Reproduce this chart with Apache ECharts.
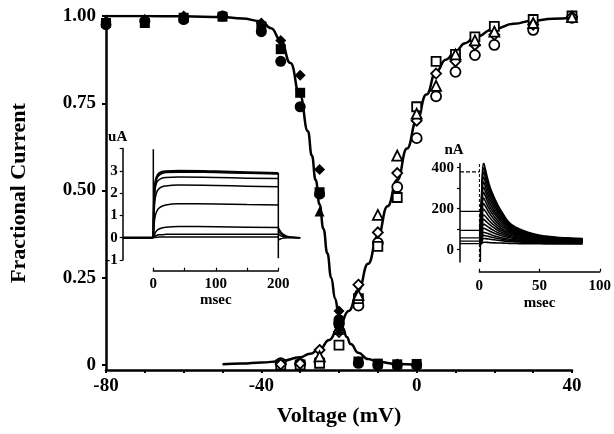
<!DOCTYPE html>
<html>
<head>
<meta charset="utf-8">
<script src="https://cdn.jsdelivr.net/npm/echarts@6.0.0/dist/echarts.min.js"></script>
<style>
  html, body { margin: 0; padding: 0; background: #fff; }
  #chart { width: 614px; height: 434px; }
</style>
</head>
<body>
<div id="chart"></div>
<script>
const FONT = 'Liberation Serif';

// ---- main plot: fractional current vs voltage ----
const fracTicks = [0, 0.25, 0.5, 0.75, 1];

// fitted inactivation curve
const inactCurveV = [-80, -70, -60, -50, -45, -40, -37.5, -35, -32.5, -30, -28, -27, -26, -25, -24, -23, -22, -21, -20, -19, -18, -17, -15, -12.5, -10, -5, 0];
const inactCurveF = [1.0, 1.0, 0.999, 0.997, 0.993, 0.985, 0.965, 0.93, 0.865, 0.77, 0.67, 0.6, 0.53, 0.46, 0.39, 0.32, 0.25, 0.19, 0.14, 0.105, 0.08, 0.06, 0.035, 0.017, 0.009, 0.003, 0.001];

// fitted activation curve
const actCurveV = [-50, -45, -40, -35, -30, -27.5, -25, -22.5, -20, -17.5, -15, -12.5, -10, -7.5, -5, -2.5, 0, 2.5, 5, 7.5, 10, 12.5, 15, 20, 25, 30, 35, 40];
const actCurveF = [0.002, 0.004, 0.007, 0.011, 0.022, 0.032, 0.045, 0.072, 0.11, 0.155, 0.215, 0.29, 0.37, 0.455, 0.53, 0.62, 0.70, 0.775, 0.84, 0.875, 0.9, 0.922, 0.94, 0.963, 0.978, 0.987, 0.992, 0.995];

// inactivation data (filled symbols)
const inactV = [-80, -70, -60, -50, -40, -35, -30, -25, -20, -15, -10, -5, 0];
const inactCircle = [0.975, 0.985, 0.99, 1.0, 0.955, 0.87, 0.74, 0.49, 0.13, 0.005, 0.0, 0.0, 0.0];
const inactSquare = [0.98, 0.98, 0.995, 0.998, 0.97, 0.905, 0.78, 0.495, 0.12, 0.01, 0.004, 0.002, 0.003];
const inactDiamond = [0.985, 0.99, 1.0, 1.0, 0.98, 0.93, 0.83, 0.56, 0.155, 0.01, 0.003, 0.003, 0.0];
const inactTriangle = [null, null, null, null, null, null, null, 0.44, 0.1, null, null, null, null];

// activation data (open symbols)
const actV = [-35, -30, -25, -20, -15, -10, -5, 0, 5, 10, 15, 20, 30, 40];
const actCircle = [0.005, 0.003, 0.01, 0.12, 0.17, 0.35, 0.51, 0.65, 0.77, 0.84, 0.888, 0.917, 0.96, 0.995];
const actSquare = [0.0, 0.0, 0.005, 0.057, 0.19, 0.34, 0.48, 0.74, 0.87, 0.89, 0.94, 0.97, 0.99, 1.0];
const actDiamond = [0.002, 0.004, 0.043, 0.095, 0.23, 0.38, 0.55, 0.70, 0.835, 0.87, 0.917, 0.946, 0.975, 0.998];
const actTriangle = [null, null, 0.025, null, 0.2, 0.43, 0.60, 0.72, 0.80, 0.89, 0.93, 0.955, 0.98, 0.997];

// ---- left inset: uA vs msec ----
const uaTicks = [-1, 0, 1, 2, 3];
const uaT = [0, 2, 5, 10, 20, 40, 100, 150, 200];
const uaTrace1 = [0, 2.2, 2.7, 2.9, 2.98, 3.0, 2.97, 2.93, 2.9];
const uaTrace2 = [0, 2.1, 2.6, 2.82, 2.92, 2.94, 2.92, 2.89, 2.86];
const uaTrace3 = [0, 1.9, 2.45, 2.62, 2.7, 2.72, 2.7, 2.67, 2.65];
const uaTrace4 = [0, 1.5, 2.0, 2.22, 2.32, 2.36, 2.34, 2.31, 2.28];
const uaTrace5 = [0, 0.8, 1.15, 1.35, 1.47, 1.52, 1.51, 1.49, 1.47];
const uaTrace6 = [0, 0.15, 0.3, 0.4, 0.47, 0.5, 0.49, 0.47, 0.46];
const uaTrace7 = [0, 0.05, 0.1, 0.13, 0.15, 0.16, 0.16, 0.15, 0.15];
const uaTrace8 = [0, 0.01, 0.02, 0.03, 0.03, 0.03, 0.03, 0.03, 0.03];
const uaTailT = [200, 203, 206, 210, 215, 222, 235];
const uaTail1 = [0.45, 0.3, 0.2, 0.12, 0.06, 0.02, 0];
const uaTail2 = [0.3, 0.2, 0.13, 0.08, 0.04, 0.015, 0];
const uaTail3 = [0.15, 0.1, 0.06, 0.04, 0.02, 0.01, 0];
const uaTail4 = [-0.1, -0.06, -0.03, -0.015, -0.005, 0, 0];
const uaBaseT = [-49, 0];
const uaBase = [0, 0];
const uaOnT = [0, 0];
const uaOn = [0, 3.97];
const uaOffT = [200, 200];
const uaOff = [2.9, -0.92];

// ---- right inset: nA vs msec ----
const naTicks = [0, 100, 200, 300, 400];
const naLabels = [0, 200, 400];
const naPreT = [-16, 0];
const naPreLevels = [380, 187, 94, 58, 42, 30];
const naT = [0.5, 2, 3.5, 5, 7.5, 10, 15, 20, 25, 30, 40, 50, 60, 70, 85];
const naTraces = [
  [50, 300, 423, 390, 330, 285, 220, 170, 130, 110, 85, 70, 63, 58, 54],
  [48, 285, 400, 370, 315, 272, 210, 162, 126, 106, 82, 68, 61, 57, 53],
  [45, 270, 380, 350, 300, 260, 200, 155, 122, 103, 80, 67, 60, 56, 52],
  [42, 250, 355, 328, 281, 244, 189, 147, 117, 99, 78, 65, 59, 55, 51],
  [40, 230, 330, 305, 262, 228, 178, 140, 112, 96, 76, 64, 58, 54, 50],
  [39, 210, 305, 282, 243, 212, 166, 132, 106, 92, 73, 62, 56, 52, 49],
  [38, 190, 280, 260, 225, 196, 155, 124, 101, 88, 71, 61, 55, 51, 48],
  [37, 170, 252, 236, 205, 180, 142, 115, 95, 83, 68, 59, 53, 50, 47],
  [36, 150, 225, 212, 185, 163, 130, 106, 89, 79, 65, 57, 52, 49, 46],
  [35, 130, 198, 187, 165, 146, 118, 97, 83, 74, 62, 55, 50, 47, 45],
  [34, 110, 170, 162, 145, 130, 106, 89, 77, 69, 59, 52, 48, 46, 44],
  [33, 95, 148, 141, 127, 115, 95, 81, 70, 64, 55, 49, 45, 43, 42],
  [32, 80, 125, 120, 110, 100, 84, 73, 64, 59, 51, 46, 43, 41, 40],
  [31, 67, 105, 101, 94, 86, 74, 65, 58, 54, 47, 43, 41, 39, 38],
  [30, 55, 85, 83, 78, 72, 63, 56, 51, 48, 43, 40, 38, 37, 36],
  [29, 47, 70, 68, 65, 61, 55, 50, 46, 43, 39, 37, 35, 34, 34],
  [28, 40, 55, 54, 52, 50, 46, 43, 40, 38, 35, 33, 32, 32, 31],
  [27, 30, 36, 36, 35, 34, 33, 32, 31, 30, 29, 29, 28, 28, 28]
];
const naZeroT = [0, 0];
const naZero = [-60, 420];
const naSpikeT = [0.8, 0.8];
const naSpike = [-60, 200];

function pairs(xs, ys) {
  return xs.map((x, i) => [x, ys[i]]).filter(p => p[1] != null);
}

const txt = { color: '#000', fontFamily: FONT, fontWeight: 'bold' };
const blackLine = { color: '#000', width: 2.5 };

function curve(xi, yi, xs, ys, width, extra) {
  return Object.assign({
    type: 'line', xAxisIndex: xi, yAxisIndex: yi,
    data: pairs(xs, ys), symbol: 'none', silent: true,
    lineStyle: { color: '#000', width: width },
    animation: false
  }, extra || {});
}

function dots(xs, ys, symbol, size, open) {
  return {
    type: 'scatter', xAxisIndex: 0, yAxisIndex: 0, clip: false,
    data: pairs(xs, ys), symbol: symbol, symbolSize: size,
    itemStyle: open
      ? { color: '#fff', borderColor: '#000', borderWidth: 1.8, opacity: 1 }
      : { color: '#000', opacity: 1 },
    z: 4, animation: false
  };
}

let myChart = echarts.init(document.getElementById('chart'));

let series = [
  curve(0, 0, inactCurveV, inactCurveF, 2.5, { smooth: true, smoothMonotone: 'x' }),
  curve(0, 0, actCurveV, actCurveF, 2.5, { smooth: true, smoothMonotone: 'x' }),
  dots(actV, actCircle, 'circle', 10, true),
  dots(actV, actSquare, 'rect', 9, true),
  dots(actV, actDiamond, 'diamond', 10, true),
  dots(actV, actTriangle, 'triangle', 10, true),
  dots(inactV, inactCircle, 'circle', 11, false),
  dots(inactV, inactSquare, 'rect', 10, false),
  dots(inactV, inactDiamond, 'diamond', 11, false),
  dots(inactV, inactTriangle, 'triangle', 10, false),

  curve(1, 1, uaBaseT, uaBase, 2.5),
  curve(1, 1, uaOnT, uaOn, 1.5),
  curve(1, 1, uaOffT, uaOff, 1.5),
  curve(1, 1, uaT, uaTrace1, 2.2, { smooth: true }),
  curve(1, 1, uaT, uaTrace2, 1.5, { smooth: true }),
  curve(1, 1, uaT, uaTrace3, 1.5, { smooth: true }),
  curve(1, 1, uaT, uaTrace4, 1.5, { smooth: true }),
  curve(1, 1, uaT, uaTrace5, 1.5, { smooth: true }),
  curve(1, 1, uaT, uaTrace6, 1.5, { smooth: true }),
  curve(1, 1, uaT, uaTrace7, 1.5, { smooth: true }),
  curve(1, 1, uaT, uaTrace8, 1.5, { smooth: true }),
  curve(1, 1, uaTailT, uaTail1, 1.5, { smooth: true }),
  curve(1, 1, uaTailT, uaTail2, 1.5, { smooth: true }),
  curve(1, 1, uaTailT, uaTail3, 1.5, { smooth: true }),
  curve(1, 1, uaTailT, uaTail4, 1.5, { smooth: true }),

  curve(3, 3, naZeroT, naZero, 1, { lineStyle: { color: '#000', width: 1, type: [3, 2] } }),
  curve(3, 3, naSpikeT, naSpike, 1.5)
];
naPreLevels.forEach((lvl, i) => {
  series.push(curve(3, 3, naPreT, [lvl, lvl], 1.2,
    i === 0 ? { lineStyle: { color: '#000', width: 1.2, type: [4, 2] } } : {}));
});
naTraces.forEach(tr => {
  series.push(curve(3, 3, naT, tr, 1.6, { smooth: true }));
});

let hiddenAxis = (grid, min, max) => ({
  type: 'value', gridIndex: grid, min: min, max: max, show: false,
  splitLine: { show: false }
});

let option = {
  backgroundColor: '#fff',
  animation: false,
  grid: [
    { left: 103, top: 16, width: 469, height: 354 },
    { left: 122.7, top: 148.5, width: 177.5, height: 111.5 },
    { left: 153.3, top: 260, width: 125, height: 10.7 },
    { left: 460, top: 163.6, width: 140.8, height: 98.4 },
    { left: 479.3, top: 262, width: 121.4, height: 9.7 }
  ],
  xAxis: [
    {
      type: 'value', gridIndex: 0, min: -80, max: 40, interval: 10,
      axisLine: { onZero: false, lineStyle: blackLine },
      axisTick: { length: 3, lineStyle: { color: '#000', width: 2 } },
      axisLabel: Object.assign({ fontSize: 19, margin: 7,
        formatter: v => (v % 40 === 0 ? String(v) : '') }, txt),
      splitLine: { show: false },
      name: 'Voltage (mV)', nameLocation: 'middle', nameGap: 35,
      nameTextStyle: Object.assign({ fontSize: 22 }, txt)
    },
    hiddenAxis(1, -49, 235),
    {
      type: 'value', gridIndex: 2, min: 0, max: 200, interval: 50,
      axisLine: { onZero: false, lineStyle: { color: '#000', width: 1.5 } },
      axisTick: { inside: true, length: 3, lineStyle: { color: '#000', width: 1.2 } },
      axisLabel: Object.assign({ fontSize: 15, margin: 6,
        formatter: v => (v % 100 === 0 ? String(v) : '') }, txt),
      splitLine: { show: false },
      name: 'msec', nameLocation: 'middle', nameGap: 21,
      nameTextStyle: Object.assign({ fontSize: 15 }, txt)
    },
    hiddenAxis(3, -16, 100),
    {
      type: 'value', gridIndex: 4, min: 0, max: 100, interval: 50,
      axisLine: { onZero: false, lineStyle: { color: '#000', width: 1.5 } },
      axisTick: { inside: true, length: 3, lineStyle: { color: '#000', width: 1.2 } },
      axisLabel: Object.assign({ fontSize: 15, margin: 7 }, txt),
      splitLine: { show: false },
      name: 'msec', nameLocation: 'middle', nameGap: 24,
      nameTextStyle: Object.assign({ fontSize: 15 }, txt)
    }
  ],
  yAxis: [
    {
      type: 'value', gridIndex: 0, min: -0.0143, max: 1,
      axisLine: { onZero: false, lineStyle: blackLine },
      axisTick: { length: 4, customValues: fracTicks, lineStyle: { color: '#000', width: 2 } },
      axisLabel: Object.assign({ fontSize: 19, margin: 10, customValues: fracTicks,
        formatter: v => (v === 0 ? '0' : v.toFixed(2)) }, txt),
      splitLine: { show: false },
      name: 'Fractional Current', nameLocation: 'middle', nameGap: 76,
      nameTextStyle: Object.assign({ fontSize: 22 }, txt)
    },
    {
      type: 'value', gridIndex: 1, min: -1, max: 4, interval: 1,
      axisLine: { onZero: false, lineStyle: { color: '#000', width: 1.5 } },
      axisTick: { length: 3, lineStyle: { color: '#000', width: 1.2 } },
      axisLabel: Object.assign({ fontSize: 15, margin: 5, customValues: uaTicks }, txt),
      splitLine: { show: false },
      name: 'uA', nameLocation: 'end', nameGap: 4,
      nameTextStyle: Object.assign({ fontSize: 15, padding: [0, 10, 0, 0] }, txt)
    },
    hiddenAxis(2, 0, 1),
    {
      type: 'value', gridIndex: 3, min: -60, max: 420,
      axisLine: { onZero: false, lineStyle: { color: '#000', width: 1.5 } },
      axisTick: { length: 3, customValues: naTicks, lineStyle: { color: '#000', width: 1.2 } },
      axisLabel: Object.assign({ fontSize: 15, margin: 6, customValues: naLabels }, txt),
      splitLine: { show: false },
      name: 'nA', nameLocation: 'end', nameGap: 6,
      nameTextStyle: Object.assign({ fontSize: 15, padding: [0, 12, 0, 0] }, txt)
    },
    hiddenAxis(4, 0, 1)
  ],
  series: series
};
myChart.setOption(option);
</script>
</body>
</html>
